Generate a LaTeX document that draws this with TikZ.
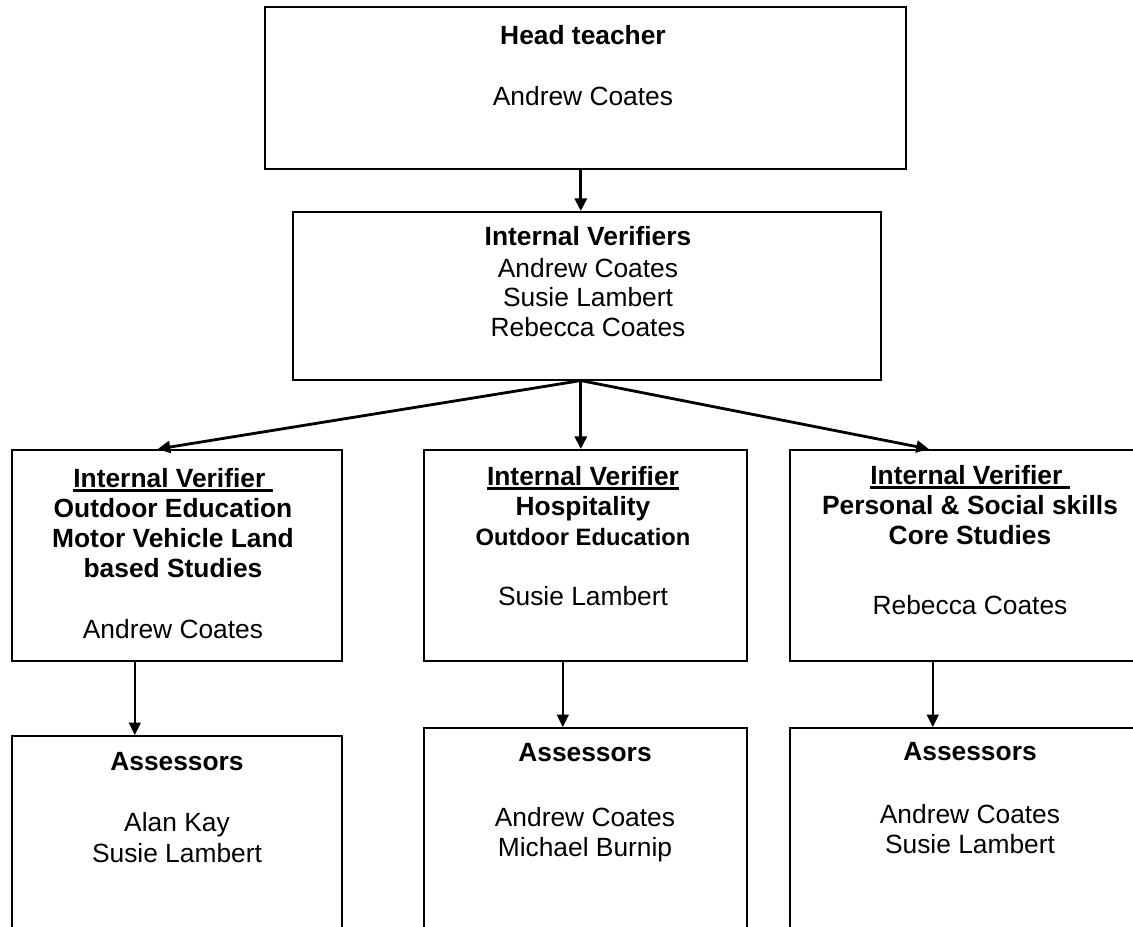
\documentclass[tikz,border=0pt]{standalone}
\usepackage{fontspec}
\setmainfont{Liberation Sans}
\usepackage{tikz}
\usetikzlibrary{shapes,arrows.meta}
\newcommand{\ulbox}[1]{\setbox0\hbox{#1}\rlap{\rule[-2.4pt]{\wd0}{1.3pt}}\box0}
\tikzstyle{box}=[rectangle, draw, line width=0.9pt, anchor=north west, inner sep=0pt]
\tikzstyle{names}=[align=center, anchor=north, inner sep=0pt,
        font=\fontsize{15}{17}\selectfont]
\tikzstyle{link}=[->, line width=1.6pt]
\tikzstyle{thinlink}=[->, line width=0.9pt]

\begin{document}
\begin{tikzpicture}
      [x=0.2mm, y=-0.2mm, >={Triangle[length=2.5mm, width=2.4mm]}]
      \clip (0,0) rectangle (1133,927);
      % Place boxes
      \node [box, minimum width=128.2mm, minimum height=32.4mm] (head) at (264,6) {};
      \node [box, minimum width=117.6mm, minimum height=33.6mm] (ivs) at (292,211) {};
      \node [box, minimum width=66mm, minimum height=42.2mm] (iv1) at (11,449) {};
      \node [box, minimum width=64.6mm, minimum height=42.2mm] (iv2) at (423,449) {};
      \node [box, minimum width=72.4mm, minimum height=42.2mm] (iv3) at (789,449) {};
      \node [box, minimum width=66mm, minimum height=45mm] (as1) at (11,735) {};
      \node [box, minimum width=64.6mm, minimum height=46.6mm] (as2) at (423,727) {};
      \node [box, minimum width=72.4mm, minimum height=46.6mm] (as3) at (789,727) {};
      % Place texts
      \node [names] (headtext) at (583,25) {\textbf{Head teacher}\\[18pt]Andrew Coates};
      \node [names] (ivstext) at (588,226) {\textbf{Internal Verifiers}\\[1pt]Andrew Coates\\Susie Lambert\\Rebecca Coates};
      \node [names] (iv1text) at (173,468) {\textbf{\ulbox{Internal Verifier\ }}\\\textbf{Outdoor Education}\\
        \textbf{Motor Vehicle Land}\\\textbf{based Studies}\\[18pt]Andrew Coates};
      \node [names] (iv2text) at (583,466) {\textbf{\ulbox{Internal Verifier}}\\\textbf{Hospitality}\\
        {\fontsize{13.5}{17}\selectfont\textbf{Outdoor Education}}\\[17.5pt]Susie Lambert};
      \node [names] (iv3text) at (970,465) {\textbf{\ulbox{Internal Verifier\ }}\\\textbf{Personal \& Social skills}\\
        \textbf{Core Studies}\\[23pt]Rebecca Coates};
      \node [names] (as1text) at (177,752) {\textbf{Assessors}\\[17.5pt]Alan Kay\\[1pt]Susie Lambert};
      \node [names] (as2text) at (585,743) {\textbf{Assessors}\\[20pt]Andrew Coates\\Michael Burnip};
      \node [names] (as3text) at (970,742) {\textbf{Assessors}\\[19pt]Andrew Coates\\Susie Lambert};
      % Draw edges
      \coordinate (fork) at ([xshift=-1.2mm]ivs.south);
      \draw [link] (head.south -| fork) -- (fork |- ivs.north);
      \draw [link] (fork) -- ([xshift=-3.8mm]iv1.north);
      \draw [link] (fork) -- (fork |- iv2.north);
      \draw [link] (fork) -- ([xshift=-8.4mm]iv3.north);
      \coordinate (drop1) at ([xshift=-8.4mm]iv1.south);
      \coordinate (drop2) at ([xshift=-4.5mm]iv2.south);
      \coordinate (drop3) at ([xshift=-7.6mm]iv3.south);
      \draw [thinlink] (drop1) -- (drop1 |- as1.north);
      \draw [thinlink] (drop2) -- (drop2 |- as2.north);
      \draw [thinlink] (drop3) -- (drop3 |- as3.north);
\end{tikzpicture}
\end{document}
